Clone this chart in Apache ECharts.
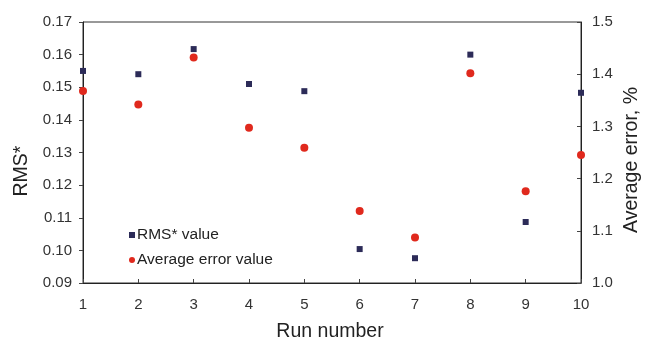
<!DOCTYPE html>
<html>
<head>
<meta charset="utf-8">
<script src="https://cdn.jsdelivr.net/npm/echarts@6/dist/echarts.min.js"></script>
<style>
  html, body { margin: 0; padding: 0; background: #fff; }
  #chart { width: 648px; height: 345px; }
</style>
</head>
<body>
<div id="chart"></div>
<script>
// Run indices on the x axis
const runs = [1, 2, 3, 4, 5, 6, 7, 8, 9, 10];
// RMS* per run (left axis)
const rmsValues = [0.1550, 0.1540, 0.1617, 0.1510, 0.1488, 0.1004, 0.0976, 0.1600, 0.1087, 0.1483];
// Average error per run, % (right axis)
const avgErrorValues = [1.368, 1.342, 1.432, 1.2975, 1.259, 1.138, 1.087, 1.402, 1.176, 1.245];

const FONT = 'Liberation Sans, Arial, sans-serif';
const navy = '#2c2b58';
const red = '#e0291d';
const tickFont = 15;

const chart = echarts.init(document.getElementById('chart'), null, { renderer: 'canvas' });

chart.setOption({
  animation: false,
  backgroundColor: '#fff',
  textStyle: { fontFamily: FONT },
  grid: {
    left: 83, right: 67, top: 22, bottom: 62,
    show: true, borderColor: '#333', borderWidth: 1, backgroundColor: 'transparent'
  },
  legend: {
    left: 124, top: 222, orient: 'vertical',
    itemWidth: 6, itemHeight: 6, itemGap: 9,
    textStyle: { fontFamily: FONT, fontSize: 15.5, color: '#222', padding: [0, 0, 0, -3] },
    data: [
      { name: 'RMS* value', icon: 'rect' },
      { name: 'Average error value', icon: 'circle' }
    ]
  },
  xAxis: {
    type: 'value', min: 1, max: 10, interval: 1,
    axisLine: { lineStyle: { color: '#222', width: 1 } },
    axisTick: { inside: true, length: 4, lineStyle: { color: '#444' } },
    splitLine: { show: false },
    axisLabel: { fontFamily: FONT, fontSize: tickFont, color: '#333', margin: 14 }
  },
  yAxis: [
    {
      type: 'value', min: 0.09, max: 0.17, interval: 0.01,
      axisLine: { show: true, lineStyle: { color: '#222', width: 1 } },
      axisTick: { show: true, inside: false, length: 4, lineStyle: { color: '#444' } },
      splitLine: { show: false },
      axisLabel: {
        fontFamily: FONT, fontSize: tickFont, color: '#333', margin: 11,
        formatter: v => v.toFixed(2)
      }
    },
    {
      type: 'value', min: 1.0, max: 1.5, interval: 0.1, position: 'right',
      axisLine: { show: true, lineStyle: { color: '#222', width: 1 } },
      axisTick: { show: true, inside: true, length: 4, lineStyle: { color: '#444' } },
      splitLine: { show: false },
      axisLabel: {
        fontFamily: FONT, fontSize: tickFont, color: '#333', margin: 11,
        formatter: v => v.toFixed(1)
      }
    }
  ],
  graphic: [
    {
      type: 'text', x: 330, y: 332,
      style: { text: 'Run number', font: '19.5px ' + FONT, fill: '#222', textAlign: 'center', textVerticalAlign: 'middle' }
    },
    {
      type: 'text', x: 22, y: 171, rotation: Math.PI / 2,
      style: { text: 'RMS*', font: '19.5px ' + FONT, fill: '#222', textAlign: 'center', textVerticalAlign: 'middle' }
    },
    {
      type: 'text', x: 632, y: 160, rotation: Math.PI / 2,
      style: { text: 'Average error, %', font: '19.5px ' + FONT, fill: '#222', textAlign: 'center', textVerticalAlign: 'middle' }
    }
  ],
  series: [
    {
      name: 'RMS* value', type: 'scatter', yAxisIndex: 0,
      symbol: 'rect', symbolSize: 6,
      itemStyle: { color: navy, opacity: 1 },
      data: runs.map((r, i) => [r, rmsValues[i]])
    },
    {
      name: 'Average error value', type: 'scatter', yAxisIndex: 1,
      symbol: 'circle', symbolSize: 8,
      itemStyle: { color: red, opacity: 1 },
      data: runs.map((r, i) => [r, avgErrorValues[i]])
    }
  ]
});
</script>
</body>
</html>
